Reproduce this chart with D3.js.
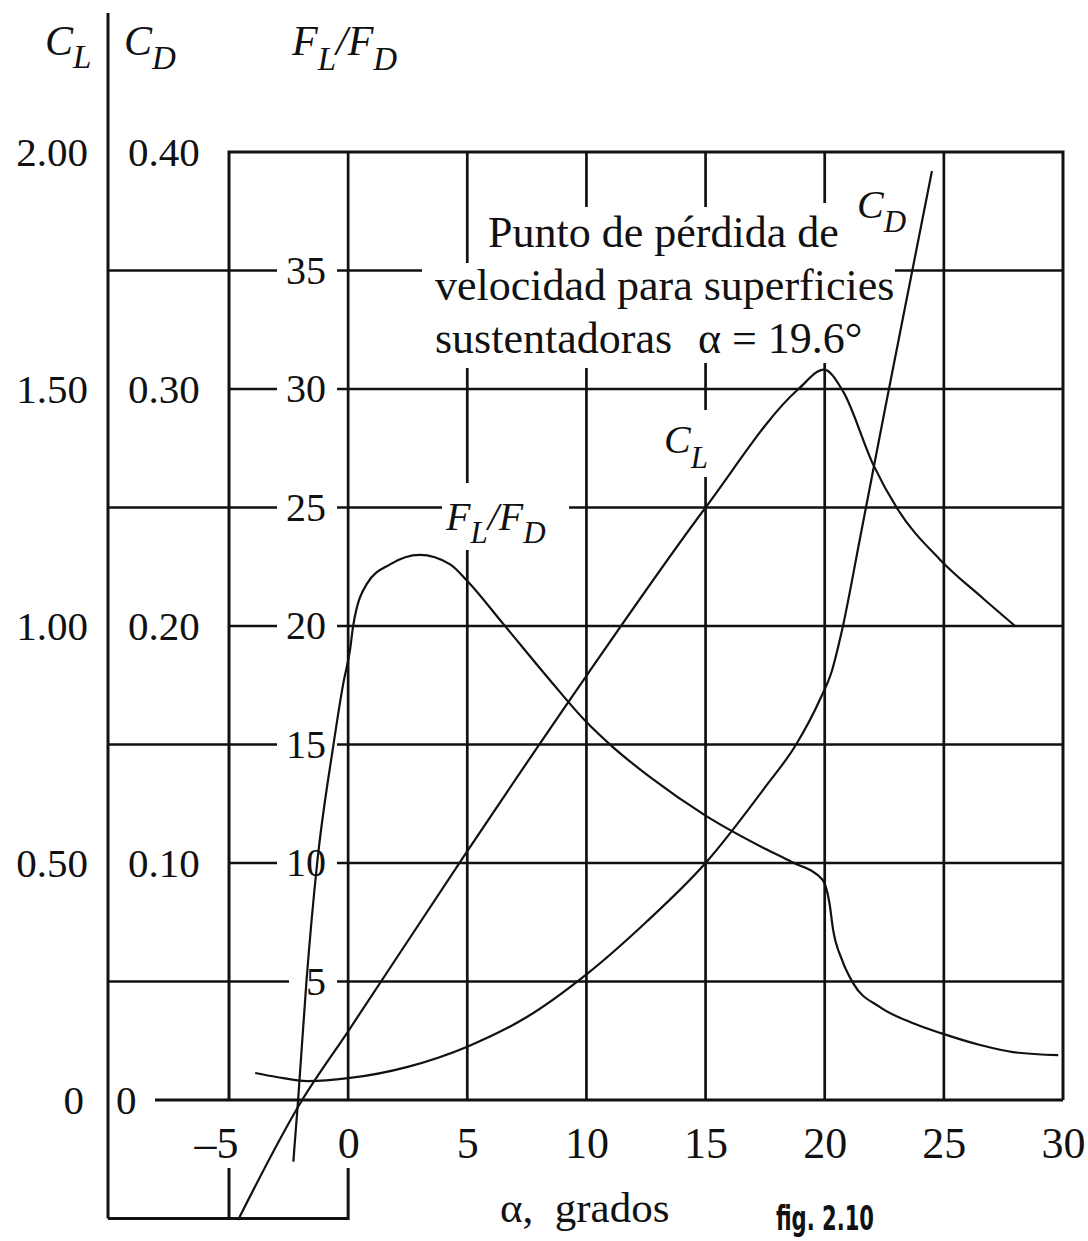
<!DOCTYPE html>
<html><head><meta charset="utf-8">
<script src="https://cdn.jsdelivr.net/npm/d3@7/dist/d3.min.js"></script>
<style>body{margin:0;background:#fff}svg{display:block}</style>
</head><body>
<svg id="c" width="1088" height="1241"></svg>
<script>
// ---- data ----
const alphaTicks = [-5, 0, 5, 10, 15, 20, 25, 30];
const clTicks = [0, 0.5, 1.0, 1.5, 2.0];
const cdTicks = [0, 0.1, 0.2, 0.3, 0.4];
const ratioTicks = [5, 10, 15, 20, 25, 30, 35];

const clAlpha  = [-4.62, -1.93, 0.0, 5.0, 10.0, 15.0, 18.9, 19.97, 20.77, 22.03, 23.04, 24.84, 26.65, 27.99];
const clValues = [-0.253, 0.0, 0.145, 0.525, 0.895, 1.25, 1.50, 1.541, 1.495, 1.341, 1.248, 1.14, 1.058, 1.0];

const cdAlpha  = [-3.9, -3.0, -1.7, 0.0, 2.5, 5.0, 7.5, 10.0, 12.5, 15.0, 17.5, 18.8, 19.8, 20.3, 20.7, 21.5, 22.5, 23.5, 24.5];
const cdValues = [0.0114, 0.0097, 0.0080, 0.0092, 0.014, 0.0225, 0.035, 0.053, 0.075, 0.100, 0.132, 0.150, 0.169, 0.181, 0.197, 0.238, 0.290, 0.341, 0.392];

const ratioAlpha  = [-2.3, -2.1, -1.75, -1.3, -0.63, -0.2, 0.08, 0.21, 0.8, 1.76, 3.0, 4.28, 5.0, 6.5, 8.48, 9.95, 11.1, 12.7, 15.0, 17.5, 18.6, 19.9, 20.2, 20.35, 20.73, 21.19, 22.32, 23.71, 24.88, 26.52, 27.9, 29.8];
const ratioValues = [-2.6, 0.0, 5.0, 10.0, 14.9, 17.6, 19.0, 20.0, 21.8, 22.6, 23.0, 22.6, 21.9, 20.1, 17.7, 16.0, 14.9, 13.6, 12.0, 10.6, 10.05, 9.3, 8.3, 7.2, 5.9, 4.93, 3.92, 3.24, 2.82, 2.32, 2.02, 1.89];

// ---- setup ----
const svg = d3.select("#c");
const serif = "'Liberation Serif','Times New Roman',serif";
const x = d3.scaleLinear().domain([-5, 30]).range([229, 1063]);
const yR = d3.scaleLinear().domain([0, 40]).range([1100, 152]);
const yCL = yR.copy().domain([0, 2]);
const yCD = yR.copy().domain([0, 0.4]);

const gridW = 2.7;
const ink = "#111";

function splitSeg(a, b, gaps) {
  const segs = []; let cur = a;
  gaps.slice().sort((p, q) => p[0] - q[0]).forEach(g => {
    if (g[0] > cur) segs.push([cur, g[0]]);
    cur = Math.max(cur, g[1]);
  });
  if (cur < b) segs.push([cur, b]);
  return segs;
}

const grid = svg.append("g").attr("stroke", ink).attr("stroke-width", gridW).attr("fill", "none");

// horizontal grid lines (FL/FD ticks)
const hExtraGaps = {35: [[422, 895]], 25: [[442, 569]]};
ratioTicks.forEach(v => {
  const start = (v % 10 === 5) ? 108 : x(-5);
  const labelGap = [v === 5 ? 289 : 277, 337];
  const gaps = [labelGap].concat(hExtraGaps[v] || []);
  splitSeg(start, x(30), gaps).forEach(s => {
    grid.append("line").attr("x1", s[0]).attr("x2", s[1]).attr("y1", yR(v)).attr("y2", yR(v));
  });
});

// vertical grid lines
const vGaps = {5: [[263, 368], [483, 550]], 10: [[207, 368]], 15: [[207, 363], [410, 477]], 20: [[203, 363]]};
[0, 5, 10, 15, 20, 25].forEach(a => {
  splitSeg(yR(40), yR(0), vGaps[a] || []).forEach(s => {
    grid.append("line").attr("x1", x(a)).attr("x2", x(a)).attr("y1", s[0]).attr("y2", s[1]);
  });
});

// frame
const frame = svg.append("g").attr("stroke", ink).attr("stroke-width", 3).attr("fill", "none");
frame.append("path").attr("d", `M${x(-5)},${yR(0)}V${yR(40)}H${x(30)}V${yR(0)}`);
frame.append("line").attr("x1", 155).attr("x2", x(30)).attr("y1", yR(0)).attr("y2", yR(0));
frame.append("line").attr("x1", 108).attr("x2", 108).attr("y1", 13).attr("y2", yCL(-0.25));
frame.append("path").attr("d", `M108,${yCL(-0.25)}H${x(0)}V1168M${x(-5)},${yCL(-0.25)}V1168`);

// curves
const curves = svg.append("g").attr("stroke", ink).attr("stroke-width", 2.2).attr("fill", "none");
const lineCL = d3.line().x(d => x(d[0])).y(d => yCL(d[1])).curve(d3.curveMonotoneX);
const lineCD = d3.line().x(d => x(d[0])).y(d => yCD(d[1])).curve(d3.curveMonotoneX);
const lineR = d3.line().x(d => x(d[0])).y(d => yR(d[1])).curve(d3.curveMonotoneX);
curves.append("path").attr("d", lineCL(d3.zip(clAlpha, clValues)));
curves.append("path").attr("d", lineCD(d3.zip(cdAlpha, cdValues)));
curves.append("path").attr("d", lineR(d3.zip(ratioAlpha, ratioValues)));

// axes (labels only)
function styleAxis(g, size) {
  g.select(".domain").remove();
  g.selectAll("line").remove();
  g.selectAll("text").attr("font-family", serif).attr("font-size", size).attr("fill", ink);
}
const gCL = svg.append("g").attr("transform", "translate(88,0)")
  .call(d3.axisLeft(yCL).tickValues(clTicks).tickSize(0).tickPadding(0).tickFormat(d => d === 0 ? "0" : d3.format(".2f")(d)));
styleAxis(gCL, 41);
gCL.selectAll("text").filter(d => d === 0).attr("dx", -4);

const gCD = svg.append("g").attr("transform", "translate(128,0)")
  .call(d3.axisRight(yCD).tickValues(cdTicks).tickSize(0).tickPadding(0).tickFormat(d => d === 0 ? "0" : d3.format(".2f")(d)));
styleAxis(gCD, 41);
gCD.selectAll("text").filter(d => d === 0).attr("dx", -12);

const gR = svg.append("g").attr("transform", "translate(326,0)")
  .call(d3.axisLeft(yR).tickValues(ratioTicks).tickSize(0).tickPadding(0));
styleAxis(gR, 40);

const gX = svg.append("g").attr("transform", `translate(0,${yR(0)})`)
  .call(d3.axisBottom(x).tickValues(alphaTicks).tickSize(0).tickPadding(27).tickFormat(d => d < 0 ? "\u2013" + Math.abs(d) : String(d)));
styleAxis(gX, 44);
gX.selectAll("text").filter(d => d < 0).attr("dx", -13);

// text helpers
function subLabel(x0, y0, parts, size, subSize, drop) {
  const t = svg.append("text").attr("x", x0).attr("y", y0)
    .attr("font-family", serif).attr("font-style", "italic").attr("font-size", size).attr("fill", ink);
  let down = false;
  parts.forEach(p => {
    const ts = t.append("tspan").text(p.t);
    if (p.sub && !down) { ts.attr("dy", drop).attr("font-size", subSize); down = true; }
    else if (!p.sub && down) { ts.attr("dy", -drop); down = false; }
    else if (p.sub) ts.attr("font-size", subSize);
  });
  return t;
}
subLabel(45, 55, [{t: "C"}, {t: "L", sub: true}], 42, 33, 13);
subLabel(124, 55, [{t: "C"}, {t: "D", sub: true}], 42, 33, 14);
subLabel(292, 55, [{t: "F"}, {t: "L", sub: true}, {t: "/F"}, {t: "D", sub: true}], 42, 33, 15);

subLabel(857, 218, [{t: "C"}, {t: "D", sub: true}], 40, 31, 14);
subLabel(664, 453, [{t: "C"}, {t: "L", sub: true}], 40, 31, 15);
subLabel(446, 530, [{t: "F"}, {t: "L", sub: true}, {t: "/F"}, {t: "D", sub: true}], 40, 31, 13);

// annotation
const ann = svg.append("g").attr("font-family", serif).attr("font-size", 44).attr("fill", ink);
ann.append("text").attr("x", 488).attr("y", 247).text("Punto de pérdida de");
ann.append("text").attr("x", 435).attr("y", 300).text("velocidad para superficies");
ann.append("text").attr("x", 435).attr("y", 353).text("sustentadoras");
ann.append("text").attr("x", 698).attr("y", 353).text("\u03b1 = 19.6°");

// axis title & figure number
svg.append("text").attr("x", 500).attr("y", 1222).attr("font-family", serif).attr("font-size", 43).attr("fill", ink)
  .attr("xml:space", "preserve").text("\u03b1,  grados");
svg.append("text").attr("x", 776).attr("y", 1230).attr("font-family", "'Liberation Sans Narrow','DejaVu Sans Condensed','Liberation Sans',sans-serif")
  .attr("font-weight", "bold").attr("font-size", 33).attr("fill", ink)
  .attr("textLength", 98).attr("lengthAdjust", "spacingAndGlyphs").text("fig. 2.10");
</script>
</body></html>
